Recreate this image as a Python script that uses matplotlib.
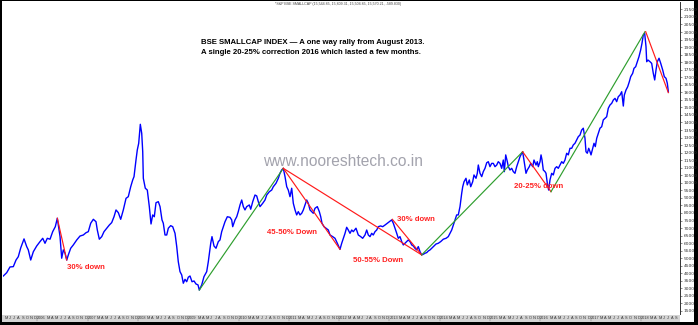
import matplotlib
matplotlib.use("Agg")
import matplotlib.pyplot as plt
from matplotlib.patches import Rectangle

# ---- data (decimal year, index value) ----
years = [
 2005.322,2005.390,2005.455,2005.521,2005.575,2005.620,2005.668,2005.734,2005.787,2005.819,
 2005.867,2005.919,2005.986,2006.052,2006.106,2006.151,2006.197,2006.251,2006.304,2006.356,
 2006.396,2006.450,2006.483,2006.515,2006.549,2006.583,2006.615,2006.662,2006.714,2006.782,
 2006.847,2006.913,2006.966,2007.012,2007.060,2007.112,2007.165,2007.191,2007.231,2007.279,
 2007.324,2007.378,2007.430,2007.477,2007.523,2007.563,2007.609,2007.656,2007.708,2007.762,
 2007.807,2007.855,2007.895,2007.921,2007.960,2007.986,2008.014,2008.046,2008.074,2008.094,
 2008.106,2008.145,2008.185,2008.225,2008.259,2008.292,2008.324,2008.358,2008.404,2008.438,
 2008.477,2008.503,2008.537,2008.571,2008.603,2008.650,2008.690,2008.736,2008.770,2008.801,
 2008.835,2008.869,2008.901,2008.935,2008.968,2009.000,2009.034,2009.074,2009.114,2009.153,
 2009.193,2009.219,2009.267,2009.312,2009.366,2009.398,2009.446,2009.471,2009.511,2009.551,
 2009.597,2009.630,2009.664,2009.696,2009.730,2009.776,2009.829,2009.863,2009.883,2009.929,
 2009.963,2009.994,2010.028,2010.062,2010.094,2010.127,2010.161,2010.213,2010.241,2010.281,
 2010.326,2010.360,2010.392,2010.426,2010.479,2010.525,2010.559,2010.611,2010.658,2010.690,
 2010.744,2010.790,2010.823,2010.857,2010.889,2010.923,2010.957,2010.988,2011.022,2011.056,
 2011.088,2011.122,2011.155,2011.187,2011.221,2011.255,2011.287,2011.320,2011.354,2011.386,
 2011.420,2011.454,2011.485,2011.519,2011.565,2011.605,2011.633,2011.658,2011.698,2011.738,
 2011.784,2011.817,2011.871,2011.917,2011.963,2012.016,2012.050,2012.082,2012.116,2012.149,
 2012.181,2012.215,2012.249,2012.281,2012.334,2012.380,2012.428,2012.467,2012.513,2012.547,
 2012.579,2012.613,2012.646,2012.678,2012.712,2012.746,2012.778,2012.825,2012.865,2012.911,
 2012.957,2012.996,2013.044,2013.076,2013.110,2013.144,2013.175,2013.209,2013.243,2013.275,
 2013.308,2013.342,2013.374,2013.408,2013.442,2013.474,2013.507,2013.541,2013.573,2013.607,
 2013.640,2013.672,2013.706,2013.740,2013.772,2013.806,2013.839,2013.885,2013.925,2013.970,
 2014.018,2014.070,2014.124,2014.169,2014.203,2014.237,2014.269,2014.302,2014.336,2014.368,
 2014.402,2014.436,2014.456,2014.482,2014.521,2014.547,2014.587,2014.615,2014.654,2014.680,
 2014.720,2014.746,2014.766,2014.800,2014.834,2014.865,2014.899,2014.933,2014.965,2014.998,
 2015.032,2015.064,2015.098,2015.132,2015.163,2015.197,2015.231,2015.263,2015.283,2015.311,
 2015.343,2015.363,2015.396,2015.430,2015.462,2015.495,2015.529,2015.561,2015.595,2015.629,
 2015.648,2015.674,2015.714,2015.740,2015.780,2015.808,2015.848,2015.873,2015.913,2015.939,
 2015.959,2015.993,2016.013,2016.033,2016.058,2016.092,2016.112,2016.138,2016.165,2016.191,
 2016.225,2016.257,2016.291,2016.324,2016.356,2016.390,2016.424,2016.456,2016.489,2016.523,
 2016.555,2016.589,2016.623,2016.654,2016.688,2016.722,2016.754,2016.788,2016.821,2016.853,
 2016.887,2016.907,2016.933,2016.961,2016.987,2017.007,2017.040,2017.066,2017.092,2017.120,
 2017.152,2017.185,2017.219,2017.251,2017.285,2017.318,2017.350,2017.384,2017.418,2017.450,
 2017.484,2017.517,2017.549,2017.583,2017.617,2017.649,2017.669,2017.702,2017.736,2017.768,
 2017.796,2017.835,2017.861,2017.895,2017.927,2017.960,2017.994,2018.020,2018.046,2018.074,
 2018.100,2018.114,2018.140,2018.180,2018.213,2018.245,2018.273,2018.299,2018.325,2018.359,
 2018.393,2018.432,2018.464,2018.498,2018.524,2018.544]

values = [
 3820,4040,4420,4440,4880,5100,5680,6280,5770,5550,
 4880,5430,5810,6100,6320,5990,6320,6260,6760,7090,
 7650,6430,5000,5550,5330,4880,5220,5660,5880,6210,
 6470,6540,6690,6760,7320,7580,7420,6870,6260,6430,
 6760,6990,7200,7360,7750,8200,8020,7580,8200,8970,
 9080,9740,10190,10410,11510,12180,12620,13880,13280,12060,
 10300,9640,9520,8420,7270,7870,7750,8680,8750,8420,
 7540,7320,6540,6540,6990,7160,7090,6650,5770,4770,
 4110,3890,3340,3600,3440,3740,3820,3440,3490,3290,
 3230,2890,3230,3780,4110,4770,5990,6430,5810,5660,
 6100,6210,6760,7090,7420,7750,7710,7540,7090,7540,
 7750,8090,8530,8860,8420,8200,8420,8530,8250,8750,
 9190,9130,8750,8420,8640,8860,9190,9410,9520,9740,
 9970,10300,10630,10850,10960,10410,9740,9520,9080,9640,
 8640,8200,7870,8090,7870,7980,8200,8530,8860,8640,
 8200,8090,7980,8310,8420,8090,7750,7320,7090,6990,
 6870,6540,6430,6320,5990,5590,5990,6320,6650,7050,
 6870,6650,6870,6760,6990,6540,6430,6320,6540,6870,
 6540,6430,6650,6540,6760,6870,7090,7140,7090,7200,
 7320,7420,7540,7320,6990,6650,6320,6430,6100,5880,
 5990,6100,6210,6100,5880,5810,5660,5550,5770,5430,
 5220,5260,5330,5370,5480,5550,5660,5810,5940,5990,
 6100,6260,6320,6430,6650,6870,7200,7540,7870,7870,
 8420,9310,9740,10070,10300,9860,10190,9740,10070,10520,
 10300,10630,11180,10630,10410,10740,10960,11330,11400,11070,
 11290,11290,11070,11180,11400,11290,10960,11510,10740,11850,
 11400,11070,10850,10960,10740,10630,11070,11400,11730,11960,
 12060,11510,10630,10850,11070,11290,11070,11510,11180,11400,
 11070,11400,11850,11510,10850,10740,10630,9970,9520,10190,
 10630,10520,10960,11070,10960,11180,11400,11290,11510,11960,
 11850,12290,12290,12510,12620,12840,13060,13170,13500,13620,
 12950,12060,11960,12290,12060,11850,12290,12620,12400,12950,
 13280,13620,13720,14170,14280,14380,14940,15160,15270,15490,
 15600,15380,15710,15820,16040,15090,15820,16150,16370,16700,
 17040,17260,17590,17700,18030,18360,18810,19250,19800,19910,
 19030,18030,18140,18030,17920,17260,16820,17480,18030,18260,
 17920,17480,17040,16930,16600,16040]

# trend lines: (start year, start value, end year, end value, colour)
trend_x0 = [2006.396, 2009.219, 2010.889, 2010.889, 2013.056, 2013.640, 2015.648, 2016.211, 2018.094]
trend_y0 = [7650, 2890, 10960, 10960, 7580, 5220, 12060, 9410, 20020]
trend_x1 = [2006.583, 2010.889, 2012.016, 2013.640, 2013.640, 2015.648, 2016.211, 2018.080, 2018.544]
trend_y1 = [4880, 10960, 5590, 5220, 5220, 12060, 9410, 20020, 15980]
trend_col = ["red", "green", "red", "red", "red", "green", "red", "green", "red"]

# annotation labels
note_text = ["30% down", "45-50% Down", "50-55% Down", "30% down", "20-25% down"]
note_x = [2006.583, 2010.559, 2012.269, 2013.155, 2015.481]
note_y = [4370, 6720, 4860, 7580, 9740]

title_lines = ["BSE SMALLCAP INDEX \u2014 A one way rally from August 2013.",
               "A single 20-25% correction 2016 which lasted a few months."]
header = "*S&P BSE SMALLCAP (15,544.85, 15,809.31, 15,504.85, 15,570.21, -589.830)"
watermark = "www.nooreshtech.co.in"
ytick_vals = list(range(1500, 22000, 500))
month_letters = ["J", "F", "M", "A", "M", "J", "J", "A", "S", "O", "N", "D"]

# ---- figure ----
W, H = 698, 325
fig = plt.figure(figsize=(W / 100, H / 100), dpi=100, facecolor="black")
def fx(px): return px / W
def fy(py): return 1 - py / H

# white canvas inside black frame
fig.patches.append(Rectangle((fx(2), fy(322)), fx(694) - fx(2), fy(1) - fy(322),
                             transform=fig.transFigure, facecolor="white", edgecolor="none", zorder=-5))
# grey date strip
fig.patches.append(Rectangle((fx(2), fy(321.5)), fx(680) - fx(2), fy(315) - fy(321.5),
                             transform=fig.transFigure, facecolor="#d4d4d4", edgecolor="none", zorder=-4))

ax = fig.add_axes([fx(3), fy(314), fx(680) - fx(3), fy(2) - fy(314)])
ax.set_zorder(2)
ax.patch.set_alpha(0)
x0, x1 = 2005.316, 2018.776
ax.set_xlim(x0, x1)
ax.set_ylim(1300, 21990)

ax.plot(years, values, color="#0000ff", lw=1.0, zorder=3, solid_joinstyle="round")
colmap = {"red": "#ff1a1a", "green": "#2e9e2e"}
for a, b, c, d, col in zip(trend_x0, trend_y0, trend_x1, trend_y1, trend_col):
    ax.plot([a, c], [b, d], color=colmap[col], lw=0.85, zorder=4)

for t, x, y in zip(note_text, note_x, note_y):
    ax.text(x, y, t, color="#ff2020", fontsize=5.6, fontweight="bold",
            family="Liberation Sans", ha="left", va="center", zorder=5)

ax.text(2010.491, 11400, watermark, color="#a3a3ad", fontsize=11.2,
        family="Liberation Sans", ha="left", va="center", zorder=2)

for s in ["left", "top", "bottom"]:
    ax.spines[s].set_visible(False)
ax.spines["right"].set_linewidth(0.7)
ax.spines["right"].set_color("#333333")
ax.yaxis.tick_right()
ax.set_yticks(ytick_vals)
ax.set_yticklabels([str(v) for v in ytick_vals])
ax.tick_params(axis="y", labelsize=3.2, length=1.5, width=0.4, pad=1, colors="#333333")
ax.set_xticks([])

# title lines
fig.text(fx(201), fy(43), title_lines[0], fontsize=5.6, fontweight="bold",
         family="Liberation Sans", ha="left", va="center")
fig.text(fx(201), fy(52), title_lines[1], fontsize=5.6, fontweight="bold",
         family="Liberation Sans", ha="left", va="center")
fig.text(fx(338), fy(4.5), header, fontsize=2.6, family="Liberation Sans",
         ha="center", va="center", color="#444444")

# date strip labels
def xpix(year):
    return 3 + (year - x0) / (x1 - x0) * 677
for yr in range(2005, 2019):
    for m in range(12):
        yv = yr + (m + 0.5) / 12
        if yv < x0 or yv > x1 - 0.02:
            continue
        if m in (0, 1):
            continue
        fig.text(fx(xpix(yv)), fy(318.3), month_letters[m], fontsize=2.8,
                 family="Liberation Sans", ha="center", va="center", color="#333333")
    ys = yr + 1 / 12
    if x0 < ys < x1:
        fig.text(fx(xpix(ys)), fy(318.3), str(yr), fontsize=2.8,
                 family="Liberation Sans", ha="center", va="center", color="#333333")
    if x0 < yr < x1:
        fig.lines.append(plt.Line2D([fx(xpix(yr)), fx(xpix(yr))], [fy(321), fy(315.5)],
                                    transform=fig.transFigure, color="#666666", lw=0.3))

fig.savefig("out.png", dpi=100, facecolor="black")
